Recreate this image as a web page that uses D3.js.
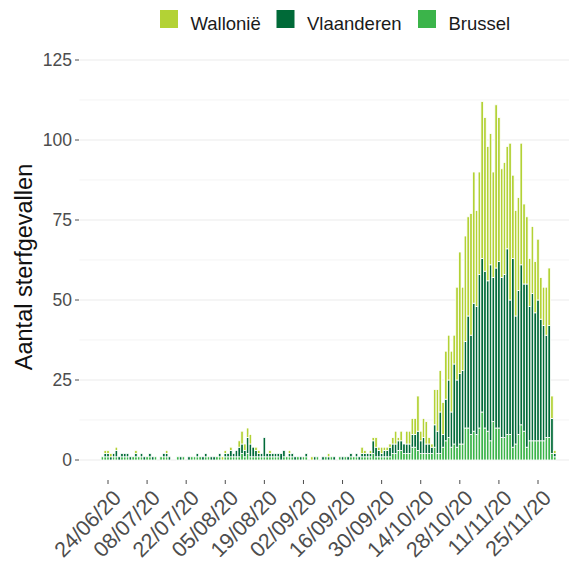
<!DOCTYPE html>
<html>
<head>
<meta charset="utf-8">
<script src="https://cdn.jsdelivr.net/npm/d3@7"></script>
<style>
  body { margin: 0; background: #fff; }
  svg { display: block; font-family: "Liberation Sans", Arial, sans-serif; }
</style>
</head>
<body>
<script>
// chart size and panel box
var W = 569;
var H = 565;
var PanelLeft = 79.5;
var PanelTop = 40;
var PanelBottom = 480;

// first and last day of the data
var firstDay = "22/06/20";
var lastDay = "01/12/20";

// series, bottom of the stack first
var keys = ["Brussel", "Vlaanderen", "Wallonie"];
var legendNames = ["Wallonië", "Vlaanderen", "Brussel"];
var legendKeys = ["Wallonie", "Vlaanderen", "Brussel"];
var colors = { Wallonie: "#b3d235", Vlaanderen: "#006a38", Brussel: "#3bb44a" };

// daily deaths per region, 22/06/20 .. 01/12/20
var brussel = [
  1,1,1,0,1,1,0,1,1,
  1,0,1,1,1,1,0,1,1,0, 1,0,1,1,1,0,0,0,1,0, 1,0,0,1,1,1,1,0,1,1, 0,
  0,1,1,0,1,1,1,1,1,1, 2,1,2,1,1,1,1,1,1,1, 1,1,1,1,0,1,1,1,1,0, 1,
  0,1,1,0,0,0,1,0,0,1, 0,1,0,0,1,0,1,0,1,1, 1,0,1,1,1,1,2,1,1,1,
  1,1,1,2,2,3,3,2,2,2, 4,4,3,2,2,2,2,2,4,2, 2,4,6,7,4,5,4,5,5,10, 10,
  8,9,8,10,15,10,9,6,12,10, 10,7,7,8,8,4,5,8,11,9, 4,6,6,6,6,6,6,7,7,2,
  1
];
var vlaanderen = [
  0,1,1,1,1,2,1,1,1,
  1,1,0,1,0,1,1,0,1,1, 0,0,0,1,1,1,0,0,0,1, 0,0,1,0,0,1,0,1,1,0, 1,
  1,0,1,0,1,1,2,1,2,3, 3,2,5,4,3,2,1,1,6,1, 1,1,1,1,2,2,0,1,1,1, 0,
  1,0,1,0,0,1,0,0,1,0, 1,0,1,0,0,1,0,1,1,0, 1,1,1,1,1,1,4,3,2,1,
  2,2,3,3,3,3,3,3,3,3, 4,4,6,4,5,3,3,2,7,7, 13,4,13,18,11,25,21,22,23,27, 35,
  31,40,40,48,48,49,47,55,45,50, 52,50,51,58,42,59,40,45,50,46, 51,42,46,40,44,38,36,32,35,11,
  1
];
var wallonie = [
  0,1,1,1,0,1,0,0,0,
  0,0,0,1,0,0,0,0,0,0, 0,0,0,0,1,0,0,0,0,0, 0,0,0,0,0,0,0,0,0,0, 0,
  0,0,0,1,1,0,1,0,0,2, 4,2,3,3,0,1,1,0,0,0, 1,0,0,0,0,0,0,1,0,0, 0,
  0,0,0,0,1,0,0,0,0,0, 1,0,0,0,0,0,0,0,0,0, 0,0,2,1,0,1,1,3,1,2,
  1,1,1,2,4,1,3,0,4,4, 5,5,11,3,6,7,2,1,11,13, 13,10,15,14,19,9,29,38,26,33, 31,
  38,41,30,32,49,48,42,41,33,51, 45,34,35,32,49,26,33,29,38,25, 21,15,21,16,19,13,12,15,18,7,
  1
];

// axis ticks
var yTicks = [0, 25, 50, 75, 100, 125];
var yMinor = [12.5, 37.5, 62.5, 87.5, 112.5];
var xTickLabels = ["24/06/20", "08/07/20", "22/07/20", "05/08/20", "19/08/20", "02/09/20",
                   "16/09/20", "30/09/20", "14/10/20", "28/10/20", "11/11/20", "25/11/20"];

var parseDay = d3.timeParse("%d/%m/%y");

function main() {
  var days = d3.timeDay.range(parseDay(firstDay), d3.timeDay.offset(parseDay(lastDay), 1));
  var rows = days.map(function(d, i) {
    return { date: d, Brussel: brussel[i], Vlaanderen: vlaanderen[i], Wallonie: wallonie[i] };
  });

  var svg = d3.select("body").append("svg")
    .attr("width", W)
    .attr("height", H);

  var tickDates = xTickLabels.map(parseDay);
  var xScale = d3.scaleTime()
    .domain([tickDates[0], tickDates[tickDates.length - 1]])
    .range([108, 538]);
  var yScale = d3.scaleLinear()
    .domain([0, 125])
    .range([460, 60]);

  var dayW = xScale(days[1]) - xScale(days[0]);

  // grid lines
  svg.selectAll("line.minor")
    .data(yMinor)
    .enter().append("line")
    .attr("class", "minor")
    .attr("x1", PanelLeft).attr("x2", W)
    .attr("y1", function(d) { return yScale(d); })
    .attr("y2", function(d) { return yScale(d); })
    .attr("stroke", "#ececec")
    .attr("stroke-width", 0.6);
  svg.selectAll("line.major")
    .data(yTicks)
    .enter().append("line")
    .attr("class", "major")
    .attr("x1", PanelLeft).attr("x2", W)
    .attr("y1", function(d) { return yScale(d); })
    .attr("y2", function(d) { return yScale(d); })
    .attr("stroke", "#ebebeb")
    .attr("stroke-width", 1.1);

  // stacked bars, thin white outline like the original
  var series = d3.stack().keys(keys)(rows);
  svg.append("g")
    .selectAll("g")
    .data(series)
    .enter().append("g")
    .attr("fill", function(s) { return colors[s.key]; })
    .selectAll("rect")
    .data(function(s) { return s.filter(function(p) { return p[1] > p[0]; }); })
    .enter().append("rect")
    .attr("x", function(p) { return xScale(p.data.date) - dayW * 0.45; })
    .attr("width", dayW * 0.9)
    .attr("y", function(p) { return yScale(p[1]); })
    .attr("height", function(p) { return yScale(p[0]) - yScale(p[1]); })
    .attr("stroke", "#fff")
    .attr("stroke-width", 0.8);

  // y axis
  var yAxis = svg.append("g");
  yAxis.selectAll("line")
    .data(yTicks)
    .enter().append("line")
    .attr("x1", PanelLeft - 4.5).attr("x2", PanelLeft - 0.5)
    .attr("y1", function(d) { return yScale(d); })
    .attr("y2", function(d) { return yScale(d); })
    .attr("stroke", "#4d4d4d")
    .attr("stroke-width", 1);
  yAxis.selectAll("text")
    .data(yTicks)
    .enter().append("text")
    .attr("x", PanelLeft - 7.5)
    .attr("y", function(d) { return yScale(d); })
    .attr("dy", "0.36em")
    .attr("text-anchor", "end")
    .attr("font-size", "17.5px")
    .attr("fill", "#4d4d4d")
    .text(function(d) { return d; });

  // x axis
  var xAxis = svg.append("g");
  xAxis.selectAll("line")
    .data(tickDates)
    .enter().append("line")
    .attr("x1", function(d) { return xScale(d); })
    .attr("x2", function(d) { return xScale(d); })
    .attr("y1", PanelBottom).attr("y2", PanelBottom + 4)
    .attr("stroke", "#4d4d4d")
    .attr("stroke-width", 1);
  xAxis.selectAll("text")
    .data(xTickLabels)
    .enter().append("text")
    .attr("transform", function(d, i) {
      return "translate(" + (xScale(tickDates[i]) + 3) + "," + (PanelBottom + 8) + ") rotate(-45)";
    })
    .attr("dy", "0.75em")
    .attr("text-anchor", "end")
    .attr("font-size", "21.5px")
    .attr("fill", "#4d4d4d")
    .text(function(d) { return d; });

  // y title
  svg.append("text")
    .attr("transform", "translate(32," + ((PanelTop + PanelBottom) / 2 + 7) + ") rotate(-90)")
    .attr("text-anchor", "middle")
    .attr("font-size", "23.5px")
    .attr("fill", "#111")
    .text("Aantal sterfgevallen");

  // legend
  var legendX = [160, 276.5, 418];
  var legend = svg.append("g");
  legend.selectAll("rect")
    .data(legendKeys)
    .enter().append("rect")
    .attr("x", function(d, i) { return legendX[i]; })
    .attr("y", 10)
    .attr("width", 18)
    .attr("height", 18)
    .attr("fill", function(d) { return colors[d]; });
  legend.selectAll("text")
    .data(legendNames)
    .enter().append("text")
    .attr("x", function(d, i) { return legendX[i] + 30.5; })
    .attr("y", 29.5)
    .attr("font-size", "18.5px")
    .attr("fill", "#1a1a1a")
    .text(function(d) { return d; });
}

main();
</script>
</body>
</html>
